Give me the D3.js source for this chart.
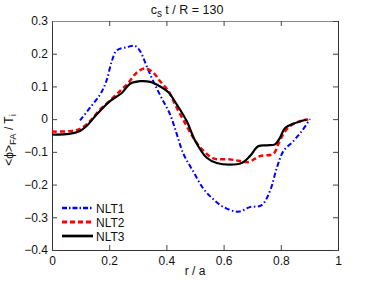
<!DOCTYPE html>
<html><head><meta charset="utf-8">
<script src="https://cdn.jsdelivr.net/npm/d3@7"></script>
<style>body{margin:0;background:#fff}svg{display:block;font-family:"Liberation Sans",Arial,sans-serif}</style>
</head><body><svg id="c" width="374" height="281"></svg>
<script>
const xTicks=[0,0.2,0.4,0.6,0.8,1];
const yTicks=[0.3,0.2,0.1,0,-0.1,-0.2,-0.3,-0.4];
const seriesNames=["NLT1","NLT2","NLT3"];
const nlt1=[[0.098,-0.004],[0.133,0.035],[0.168,0.075],[0.19,0.116],[0.209,0.177],[0.226,0.21],[0.261,0.22],[0.29,0.224],[0.308,0.208],[0.331,0.162],[0.354,0.116],[0.383,0.065],[0.413,0.014],[0.436,-0.045],[0.459,-0.105],[0.494,-0.16],[0.529,-0.212],[0.564,-0.245],[0.599,-0.268],[0.651,-0.283],[0.692,-0.269],[0.733,-0.263],[0.762,-0.22],[0.786,-0.149],[0.809,-0.098],[0.844,-0.067],[0.873,-0.037],[0.902,0]];
const nlt2=[[0,-0.038],[0.06,-0.037],[0.098,-0.03],[0.133,-0.006],[0.162,0.024],[0.203,0.057],[0.238,0.086],[0.267,0.111],[0.296,0.142],[0.325,0.155],[0.354,0.142],[0.378,0.116],[0.407,0.086],[0.436,0.035],[0.471,-0.021],[0.5,-0.065],[0.53,-0.097],[0.564,-0.12],[0.622,-0.123],[0.657,-0.128],[0.687,-0.131],[0.727,-0.113],[0.774,-0.106],[0.791,-0.077],[0.809,-0.045],[0.832,-0.021],[0.867,-0.006],[0.896,-0.001]];
const nlt3=[[0,-0.047],[0.06,-0.045],[0.098,-0.036],[0.121,-0.021],[0.156,0.014],[0.203,0.055],[0.244,0.08],[0.273,0.108],[0.308,0.116],[0.343,0.114],[0.378,0.1],[0.407,0.082],[0.436,0.045],[0.471,-0.006],[0.5,-0.065],[0.541,-0.118],[0.576,-0.134],[0.622,-0.139],[0.663,-0.134],[0.692,-0.113],[0.721,-0.083],[0.751,-0.08],[0.78,-0.077],[0.797,-0.057],[0.815,-0.027],[0.844,-0.014],[0.89,-0.001]];

const svg=d3.select("#c");
const L=52,R=338,T=21,B=250;
const x=d3.scaleLinear().domain([0,1]).range([L,R]);
const y=d3.scaleLinear().domain([-0.4,0.3]).range([B,T]);
const fmt=d=>d===0?"0":(d<0?"\u2212":"")+String(Math.abs(d));

svg.append("g").attr("transform",`translate(0,${B})`).call(d3.axisBottom(x).tickValues(xTicks).tickSize(-5).tickPadding(6).tickFormat(d=>String(d)));
svg.append("g").attr("transform",`translate(${L},0)`).call(d3.axisLeft(y).tickValues(yTicks).tickSize(-5).tickPadding(4).tickFormat(fmt));
svg.append("g").attr("class","topax").attr("transform",`translate(0,${T})`).call(d3.axisTop(x).tickValues(xTicks).tickSize(-5).tickFormat(""));
svg.append("g").attr("transform",`translate(${R},0)`).call(d3.axisRight(y).tickValues(yTicks).tickSize(-5).tickFormat(""));
svg.selectAll(".domain").attr("stroke","#333");
svg.selectAll(".topax .domain").attr("stroke","#888");
svg.selectAll(".tick line").attr("stroke","#444");
svg.selectAll(".tick text").attr("font-size",12).attr("fill","#111").attr("font-family","Liberation Sans, Arial, sans-serif");

const line=d3.line().x(d=>x(d[0])).y(d=>y(d[1])).curve(d3.curveCatmullRom.alpha(0.5));
const styles=[{c:"#0000ff",w:2,da:"5,2.5,1.5,2.5"},{c:"#ff0000",w:2.5,da:"5,3"},{c:"#000",w:2.2,da:null}];
const data=[nlt1,nlt2,nlt3];
data.forEach((d,i)=>{
  const p=svg.append("path").attr("d",line(d)).attr("fill","none").attr("stroke",styles[i].c).attr("stroke-width",styles[i].w);
  if(styles[i].da)p.attr("stroke-dasharray",styles[i].da);
});
// legend
const ly=[208,222,236];
seriesNames.forEach((n,i)=>{
  const l=svg.append("line").attr("x1",62).attr("x2",93).attr("y1",ly[i]).attr("y2",ly[i]).attr("stroke",styles[i].c).attr("stroke-width",styles[i].w+0.5);
  if(styles[i].da)l.attr("stroke-dasharray",i===0?"5,2,1.5,2":"5,3");
  svg.append("text").attr("x",96).attr("y",ly[i]+4.5).attr("font-size",12).attr("fill","#111").text(n);
});
// title
const t=svg.append("text").attr("x",187).attr("y",14).attr("text-anchor","middle").attr("font-size",12.5).attr("fill","#111");
t.append("tspan").text("c");
t.append("tspan").attr("font-size",10).attr("dy",3).text("s");
t.append("tspan").attr("dy",-3).text(" t / R = 130");
// x label
svg.append("text").attr("x",195).attr("y",275).attr("text-anchor","middle").attr("font-size",12).attr("fill","#111").text("r / a");
// y label
const yl=svg.append("text").attr("transform","translate(13,140) rotate(-90)").attr("text-anchor","middle").attr("font-size",12).attr("fill","#111");
yl.append("tspan").text("<\u03d5>");
yl.append("tspan").attr("font-size",9.5).attr("dy",3).text("FA");
yl.append("tspan").attr("dy",-3).text(" / T");
yl.append("tspan").attr("font-size",9.5).attr("dy",3).text("i");
</script></body></html>
